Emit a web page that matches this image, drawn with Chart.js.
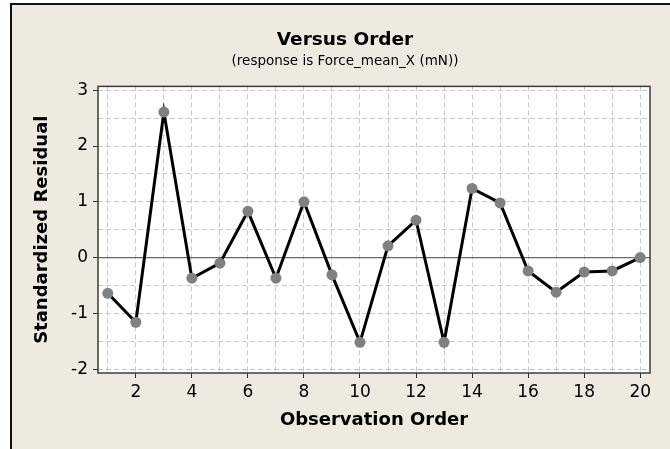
<!DOCTYPE html>
<html>
<head>
<meta charset="utf-8">
<title>Versus Order</title>
<script src="https://cdn.jsdelivr.net/npm/chart.js@4/dist/chart.umd.min.js"></script>
<style>
  html, body { margin: 0; padding: 0; background: #fff; }
  #wrap { position: relative; width: 670px; height: 449px; }
</style>
</head>
<body>
<div id="wrap"><canvas id="chart" width="670" height="449"></canvas></div>
<script>
'use strict';

// observation order (x) and standardized residuals (y)
const obsOrder = [1, 2, 3, 4, 5, 6, 7, 8, 9, 10, 11, 12, 13, 14, 15, 16, 17, 18, 19, 20];
const residuals = [-0.64, -1.16, 2.61, -0.37, -0.10, 0.83, -0.37, 1.00, -0.31, -1.52,
  0.21, 0.67, -1.52, 1.24, 0.98, -0.24, -0.62, -0.26, -0.24, 0.00];

const xTickLabels = [2, 4, 6, 8, 10, 12, 14, 16, 18, 20];
const yTickLabels = [-2, -1, 0, 1, 2, 3];
const yGridValues = [-2, -1.5, -1, -0.5, 0, 0.5, 1, 1.5, 2, 2.5, 3];

const FONT = '"DejaVu Sans", Verdana, sans-serif';
const BEIGE = '#eeeae0';

const framePlugin = {
  id: 'frame',
  beforeDraw(chart) {
    const { ctx, width, height, chartArea: a } = chart;
    ctx.save();
    ctx.fillStyle = '#ffffff';
    ctx.fillRect(0, 0, width, height);
    ctx.fillStyle = BEIGE;
    ctx.fillRect(10, 3, width - 10, height - 3);
    ctx.fillStyle = '#111';
    ctx.fillRect(10, 3, 2, height - 3);
    ctx.fillRect(10, 3, width - 10, 2);
    ctx.fillStyle = '#ffffff';
    ctx.fillRect(a.left, a.top, a.right - a.left, a.bottom - a.top);
    ctx.restore();
  },
  beforeDatasetsDraw(chart) {
    const { ctx, chartArea: a, scales } = chart;
    const y0 = scales.y.getPixelForValue(0);
    ctx.save();
    ctx.strokeStyle = '#6a6a6a';
    ctx.lineWidth = 1.2;
    ctx.beginPath();
    ctx.moveTo(a.left, y0);
    ctx.lineTo(a.right, y0);
    ctx.stroke();
    ctx.strokeStyle = '#3c3c3c';
    ctx.lineWidth = 1.5;
    ctx.strokeRect(a.left, a.top, a.right - a.left, a.bottom - a.top);
    ctx.restore();
  }
};

new Chart(document.getElementById('chart'), {
  type: 'line',
  data: {
    datasets: [{
      data: obsOrder.map((x, i) => ({ x, y: residuals[i] })),
      borderColor: '#000',
      borderWidth: 3,
      pointRadius: 5.5,
      pointHoverRadius: 5.5,
      pointBackgroundColor: '#808080',
      pointBorderColor: '#808080',
      pointBorderWidth: 0,
      tension: 0
    }]
  },
  options: {
    responsive: false,
    animation: false,
    events: [],
    // left padding pushes the title centre to the right like the original
    layout: { padding: { left: 40, right: 20, top: 0, bottom: 0 } },
    plugins: {
      legend: { display: false },
      tooltip: { enabled: false },
      title: {
        display: true,
        text: 'Versus Order',
        color: '#000',
        font: { family: FONT, size: 18.5, weight: 'bold' },
        padding: { top: 29, bottom: 0 }
      },
      subtitle: {
        display: true,
        text: '(response is Force_mean_X (mN))',
        color: '#000',
        font: { family: FONT, size: 13.5 },
        padding: { top: 2.5, bottom: 16.5 }
      }
    },
    scales: {
      x: {
        type: 'linear',
        min: 0.65,
        max: 20.35,
        afterBuildTicks(scale) {
          scale.ticks = obsOrder.map((v) => ({ value: v }));
        },
        afterFit(scale) {
          scale.height = 76;
        },
        ticks: {
          color: '#000',
          font: { family: FONT, size: 17 },
          padding: 4,
          maxRotation: 0,
          autoSkip: false,
          callback: (v) => (xTickLabels.includes(v) ? String(v) : '')
        },
        grid: {
          color: '#c8c8c8',
          lineWidth: 1,
          drawTicks: true,
          tickLength: 5,
          tickWidth: 1,
          tickColor: (ctx) => (ctx.tick && xTickLabels.includes(ctx.tick.value) ? '#333' : 'rgba(0,0,0,0)')
        },
        border: { display: false, dash: [5, 3] },
        title: {
          display: true,
          text: 'Observation Order',
          color: '#000',
          font: { family: FONT, size: 18, weight: 'bold' },
          padding: { top: 0, bottom: 18 }
        }
      },
      y: {
        type: 'linear',
        min: -2.07,
        max: 3.07,
        afterBuildTicks(scale) {
          scale.ticks = yGridValues.map((v) => ({ value: v }));
        },
        afterFit(scale) {
          scale.width = 58;
        },
        ticks: {
          color: '#000',
          font: { family: FONT, size: 17 },
          padding: 5,
          autoSkip: false,
          callback: (v) => (yTickLabels.includes(v) ? String(v) : '')
        },
        grid: {
          color: '#c8c8c8',
          lineWidth: 1,
          drawTicks: true,
          tickLength: 5,
          tickWidth: 1,
          tickColor: (ctx) => (ctx.tick && yTickLabels.includes(ctx.tick.value) ? '#333' : 'rgba(0,0,0,0)')
        },
        border: { display: false, dash: [5, 3] },
        title: {
          display: true,
          text: 'Standardized Residual',
          color: '#000',
          font: { family: FONT, size: 18, weight: 'bold' },
          padding: { top: -8, bottom: 0 }
        }
      }
    }
  },
  plugins: [framePlugin]
});
</script>
</body>
</html>
